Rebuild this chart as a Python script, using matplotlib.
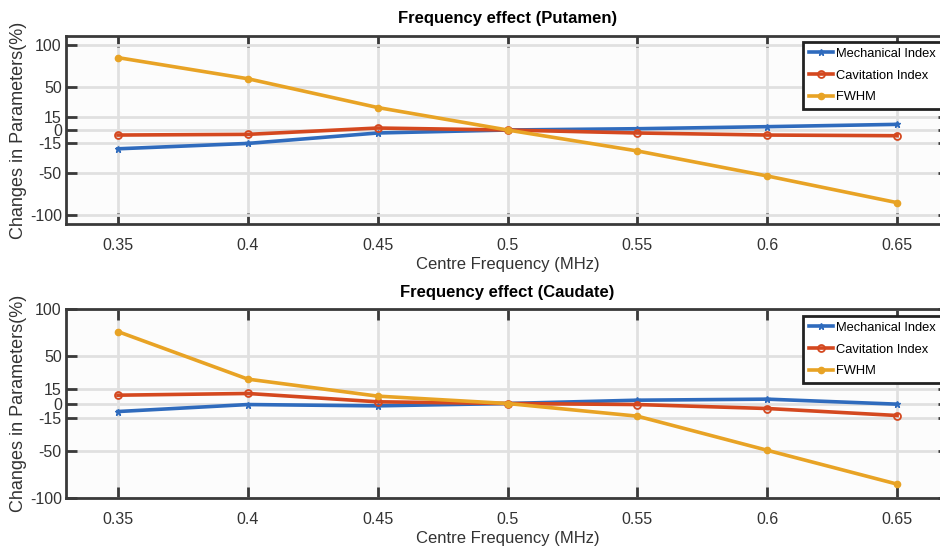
import matplotlib
matplotlib.use("Agg")
import matplotlib.pyplot as plt

plt.rcParams['font.family'] = ['Liberation Sans', 'DejaVu Sans']
plt.rcParams['axes.unicode_minus'] = False

freq = [0.35, 0.40, 0.45, 0.50, 0.55, 0.60, 0.65]
xticklabels = ['0.35', '0.4', '0.45', '0.5', '0.55', '0.6', '0.65']
yticks = [-100, -50, -15, 0, 15, 50, 100]

put_mi = [-22, -15.7, -3.5, 0, 1.5, 3.9, 6.6]
put_ci = [-5.9, -5.1, 2.3, 0, -3.5, -5.9, -6.7]
put_fwhm = [84.7, 60, 26.3, 0, -24.5, -53.8, -85]

cau_mi = [-8.5, -1.1, -2.5, 0, 3.5, 4.6, -0.7]
cau_ci = [8.8, 10.6, 1.8, 0, -1.1, -5.3, -12.7]
cau_fwhm = [76.1, 25.8, 7.8, 0, -13.4, -49.5, -85.3]

titles = ['Frequency effect (Putamen)', 'Frequency effect (Caudate)']
labels = ['Mechanical Index', 'Cavitation Index', 'FWHM']
colors = ['#2f6bbd', '#d4481f', '#e8a325']

W, H = 940, 553
fig = plt.figure(figsize=(9.4, 5.53), dpi=100)

def add_axes(left, top, right, bottom):
    return fig.add_axes([left / W, 1 - bottom / H, (right - left) / W, (bottom - top) / H])

panels = [
    (add_axes(66, 36, 949, 224), (-110, 110), put_mi, put_ci, put_fwhm, 42),
    (add_axes(66, 309, 949, 498), (-100, 100), cau_mi, cau_ci, cau_fwhm, 316),
]

for i, (ax, ylim, mi, ci, fw, legtop) in enumerate(panels):
    ax.set_facecolor('#fcfcfc')
    ax.plot(freq, mi, color=colors[0], lw=2.6, marker='*', ms=5, label=labels[0])
    ax.plot(freq, ci, color=colors[1], lw=2.6, marker='o', ms=5, mfc='none', mew=1.3, label=labels[1])
    ax.plot(freq, fw, color=colors[2], lw=2.6, marker='.', ms=9, label=labels[2])
    ax.set_xlim(0.33, 0.67)
    ax.set_ylim(*ylim)
    ax.set_xticks(freq)
    ax.set_xticklabels(xticklabels)
    ax.set_yticks(yticks)
    ax.grid(True, color='#e0e0e0', lw=2)
    ax.set_axisbelow(True)
    for s in ax.spines.values():
        s.set_color('#3a3a3a')
        s.set_linewidth(2)
    ax.tick_params(direction='in', length=8, width=2, color='#3a3a3a',
                   top=True, right=True, labelsize=11.5, labelcolor='#333333', pad=10)
    ax.tick_params(axis='y', pad=3)
    ax.set_title(titles[i], fontsize=12, fontweight='bold', pad=9)
    ax.set_xlabel('Centre Frequency (MHz)', fontsize=12, color='#333333', labelpad=3)
    ax.set_ylabel('Changes in Parameters(%)', fontsize=13, color='#333333', labelpad=2)
    leg = ax.legend(loc='upper left', bbox_to_anchor=(803 / W, 1 - legtop / H),
                    bbox_transform=fig.transFigure, fontsize=9.3, frameon=True,
                    fancybox=False, borderpad=0.45, labelspacing=0.75, handlelength=1.9,
                    handletextpad=0.2, borderaxespad=0)
    leg.get_frame().set_edgecolor('#222222')
    leg.get_frame().set_linewidth(2)
    leg.get_frame().set_facecolor('white')
    leg.get_frame().set_alpha(1)

fig.savefig('out.png', dpi=100)
